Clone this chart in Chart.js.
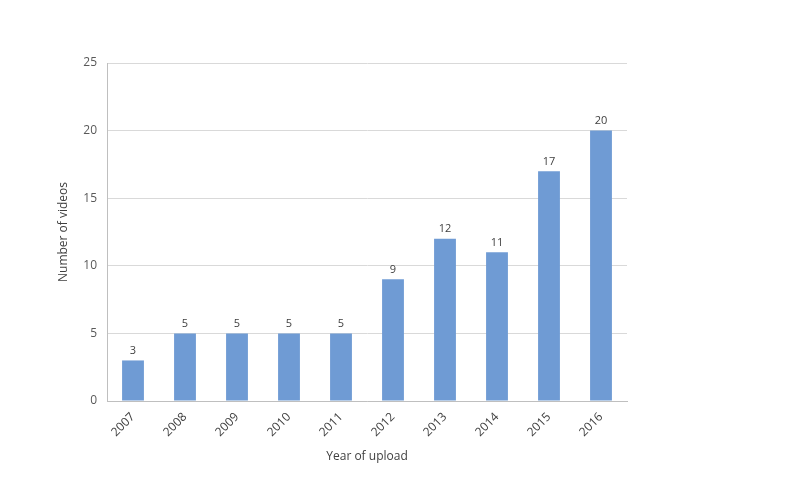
<!DOCTYPE html>
<html>
<head>
<meta charset="utf-8">
<script src="https://cdn.jsdelivr.net/npm/chart.js@4/dist/chart.umd.min.js"></script>
<style>
  html, body { margin: 0; padding: 0; background: #fff; }
  #wrap { width: 800px; height: 500px; }
</style>
</head>
<body>
<div id="wrap"><canvas id="uploads" width="800" height="500"></canvas></div>
<script>
// DATA
const years = ['2007', '2008', '2009', '2010', '2011', '2012', '2013', '2014', '2015', '2016'];
const videoCounts = [3, 5, 5, 5, 5, 9, 12, 11, 17, 20];

// value labels above the bars
const barLabels = {
  id: 'barLabels',
  afterDatasetsDraw(chart) {
    const ctx = chart.ctx;
    const meta = chart.getDatasetMeta(0);
    ctx.save();
    ctx.font = '11px "Open Sans", sans-serif';
    ctx.fillStyle = '#404040';
    ctx.textAlign = 'center';
    ctx.textBaseline = 'bottom';
    meta.data.forEach(function (bar, i) {
      ctx.fillText(chart.data.datasets[0].data[i], bar.x, bar.y - 4);
    });
    ctx.restore();
  }
};

var ctx = document.getElementById('uploads');

var myChart = new Chart(ctx, {
  type: 'bar',
  data: {
    labels: years,
    datasets: [{
      data: videoCounts,
      backgroundColor: '#6f9bd4',
      borderWidth: 0,
      categoryPercentage: 1,
      barPercentage: 0.42
    }]
  },
  options: {
    responsive: false,
    animation: false,
    layout: { padding: { left: 52, right: 173, top: 63, bottom: 32 } },
    plugins: {
      legend: { display: false },
      tooltip: { enabled: false }
    },
    scales: {
      x: {
        afterFit: function (scale) { scale.height = 67; },
        grid: { display: false, drawTicks: false },
        border: { color: '#bfbfbf' },
        ticks: {
          color: '#404040',
          font: { family: '"Open Sans", sans-serif', size: 12 },
          minRotation: 45,
          maxRotation: 45,
          padding: 9
        },
        title: {
          display: true,
          text: 'Year of upload',
          color: '#404040',
          font: { family: '"Open Sans", sans-serif', size: 12 },
          padding: { top: 4, bottom: 4 }
        }
      },
      y: {
        min: 0,
        max: 25,
        afterFit: function (scale) { scale.width = 55; },
        grid: { color: '#d9d9d9', drawTicks: false },
        border: { color: '#bfbfbf' },
        ticks: {
          stepSize: 5,
          color: '#595959',
          font: { family: '"Open Sans", sans-serif', size: 12 },
          padding: 10
        },
        title: {
          display: true,
          text: 'Number of videos',
          color: '#404040',
          font: { family: '"Open Sans", sans-serif', size: 12 },
          padding: { top: 4, bottom: 4 }
        }
      }
    }
  },
  plugins: [barLabels]
});
</script>
</body>
</html>
